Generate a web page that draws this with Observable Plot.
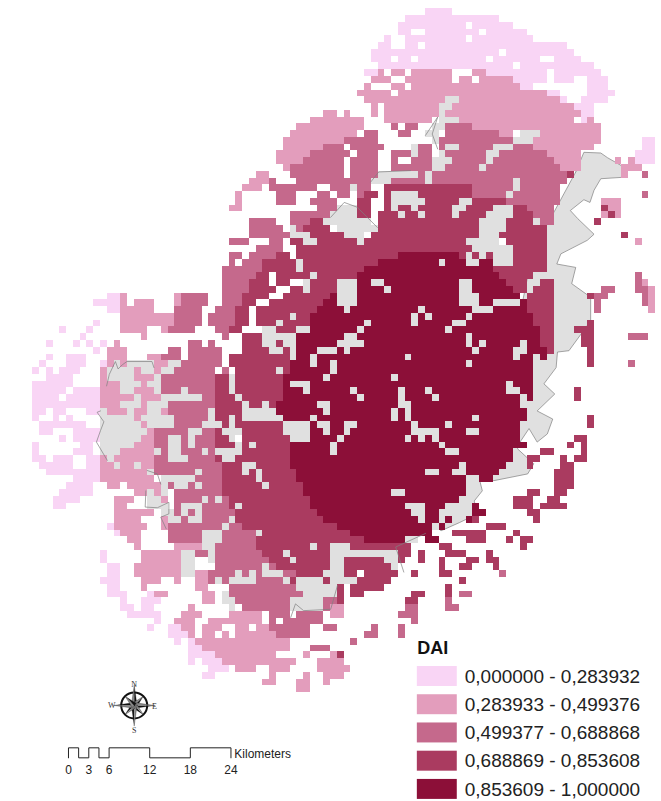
<!DOCTYPE html>
<html><head><meta charset="utf-8">
<script src="https://cdn.jsdelivr.net/npm/d3@7"></script>
<script src="https://cdn.jsdelivr.net/npm/@observablehq/plot@0.6"></script>
<style>html,body{margin:0;padding:0;background:#fff}svg{display:block}</style>
</head><body><div id="chart"></div>
<script>
// DAI classes
const classes = ["l","m","o","d","k","g"];
const colours = ["#f9d5f5","#e39dbc","#c5698c","#aa3b60","#8c0f38","#e0e0e0"];
const legendLabels = ["0,000000 - 0,283932","0,283933 - 0,499376","0,499377 - 0,688868","0,688869 - 0,853608","0,853609 - 1,000000"];
// Raster, one string per row (1 km cells); later runs override, w = no data
const rowsNorth = [
"l58-61","l55-68","l54-70 w64","l54-72 w56-57 w66","l52 l55-73 w64","l51-52 l55-78 w57","l50-79 w69","l50-80 w53 w56 w67 w75-76","l51-82 w71",
"l49-50 m51 m53-54 m56-61 m65-66 l67-83 w76","m50-52 m55-61 m63-64 m66-70 l71-75 l77-79 l82-84","m49 m53-54 m56-71 l72-73 l82-84",
"m48-75 w53 l76-77 l82-85","m49-60 g61-62 m63-77 l78 l81-84","m50 m52-59 g60-61 m62-79 l80-82","m43-44 m46 m50 m52-59 g60 m61-80 l81-82",
"m41-48 m52-58 g60-62 m63-79 l81 m82","m39-48 o53 o55-56 g59-60 o61-64 m65-83","m38-47 o49-50 o54-55 g58-59 o61-68 m69-70 g72-74 m75-83",
"m37-45 o46-50 g59 o60-70 g71-73 m74-83 l90-91","m37-42 o43-51 w46 g56 o57-58 o60 g61-62 o63-67 g68-70 o71-73 m74-82 l90-91",
"m36-40 o41-50 w47 o53-55 g56 o57-58 g60 o61-66 g67-68 o69-75 m76-80 l89-91","m36-39 o40-50 w46 o53 o56-58 g59-61 o62-66 g67 o68-76 m77-80 m86 m88 l89-91",
"m37 o38-50 w46 o53-54 o55-58 g59-60 o61-65 g66 o67-77 m78-80 m87-89","m33-34 o38-50 w46 g51-56 o57 g58 o59-78 d79 m87 o90",
"m32-34 o35 o39-49 g50-52 o53-57 g58 o59-70 g71 o72-78","m31-33 o35-37 o38-41 o44-46 g47 o48-49 d52-64 o65-70 g71 o72-77",
"m30 o36-38 o42-43 o45-46 o48 d49-50 d52 g53-56 d57-64 o65-69 g70 o71-77 o90","m30 o36-38 o41-44 d48-49 d52 g53-57 d58-62 g63-64 d65-69 o70-77 m84-86",
"m29-30 o42-44 g45-47 d48-49 d52 g53 d54-55 g56 d57-61 g62-63 d64-67 g68-70 d71-72 o73-76 d84 m85-86","o38-43 g44-47 d48-49 d51-53 g54 d55-56 g57 d58-61 g62 d63-66 g67-70 d71-73 o74-76 m84 d85 m86",
"o32-35 o38-40 d41-42 g43-49 d51-65 g66-69 d70-73 g74 o75-76 d83","o32-36 g38 o39 d40-43 g45-50 d51-65 g66-69 d70-75",
"o32-37 g38-40 d41-45 g46-48 d50-65 g66-68 d69-75 d87","o29-31 o35-36 d38-39 g40-41 d42-47 g48 d49-63 g64-68 d70-75 m89","o33-36 d39-64 g65-70 d71-75",
"o29-30 o32-35 d36-37 d39-53 k54-62 d63 g64 d65 g66 d67 g68-70 d71-75","o29 o31-33 d34-38 g39 d40-50 k51-59 g60 k61-63 g64-65 k66-67 g68-70 d71-75",
"o28-33 d34-38 g39 d40-48 k49-67 d68-75"];
const rowsMiddle = [
"o28-32 d33-34 d36-40 g41 d42-47 k48-68 d69-73 o89","o28-31 d32-34 d36-37 g40 d41-44 g45-47 k48-49 g50-51 k52-62 g63-64 k65-69 d70-72 d75-76 o89 m90",
"o28-31 d32-35 d38-39 g40 d41-44 g45-47 k48-51 g52 k53-62 g63-64 k65-70 d71-72 d74-76 o84-85 o89-90 m91",
"l11-12 m13 m21 o22-25 o28-30 d31-34 d37-43 k44 g45-47 k48-62 g63-65 k66-71 d73-76 d82 o83-84 o90 m91",
"l9-12 m13 m15-17 m21 o22-25 o28-30 d31-32 d35-42 k43-44 g45-47 k48-62 g63-65 k66-67 g68-71 k72 d73-76 o83 o90 m91",
"l11-12 m13-17 o21-24 o27-29 d30-31 d33-41 k42-45 g46 k47-56 g57 k58-64 g65-67 k68-72 d73-76 o83 m91",
"m13-20 o21-24 o26-29 d30-31 d33-37 g38 d39-40 k41-55 g56 k57 g58 k59-63 g64 k65-73 d74-76",
"l9 m13-20 o21-24 o26-29 d30-31 d33-35 g36 d37-40 k41-48 g49 k50-55 g56 k57-61 g62-63 k64-73 d74-76 d82",
"l4 l8 m13-16 m19 o20-23 o27-28 d29-30 g34-35 d36-38 g39-40 k41-47 g48 k49-60 g61 k62-74 d75-76 d80-82",
"l7 m16 o28 d31-33 g34-38 k39-45 g46-47 k48-63 g64 k65-74 d75-76 d81-82 o88-90",
"l2 l6 l8 l10 m12 o23-24 o26 d31-33 g34-35 d36 g37-38 k39-44 g45-48 k49-63 g64 k65 g66 k67-71 g72 k73-74 d75-76 d81-82",
"l9 m11-13 o20-21 o23-27 d31-34 g35-36 d37 g38 k39-41 g42-44 k45 g46 k47-64 g65 k66-70 g71-72 k73-75 d76 d82",
"l2 l5-7 m11-13 m17-18 o19-21 o23-27 d29-37 g38 k39-40 g41 k42-54 g55 k56-70 g71 k72-73 k75 d82",
"l1 l5-7 l10 m11 g12 m13 g14-17 m18-19 g20-21 o22-27 d29-37 k38-40 g41 k42-43 g44 k45-63 g64 k65-73 d82 o88",
"l0 l2 l4-6 m10 g11-14 m15 g16-17 m18 g19-20 o21-26 o28 d30-35 g36 d37 k38-43 g44 k45-73",
"l2-5 m10 g11-14 m15-17 g18 o19-26 d27-28 g29 d30-36 k37-42 g43 k44-52 g53 k54-73",
"l0-5 m10-12 g13-15 m16 g17-18 o19-26 d27-28 g29 d30-36 k37 g38-40 k41-69 g70 k71-73",
"l0-4 l6-9 m10-12 g13-14 m15-17 g18 o19-21 g22 o23-26 d27-28 g29 d30-36 k37-39 g40 k41-46 g47 k48-53 g54 k55-57 g58 k59-69 g70-71 k72-73 d80",
"l0-3 l5-9 m10-14 g15 m16-18 g19-24 o25-26 d27-29 g30 d31-36 k37-47 g48 k49-53 g54 k55-58 g59 k60-71 g72 k73 d80",
"l0-9 m10-12 g13-15 m16 g17-19 o20-26 d27-30 g31 d32-33 g34 d35 k36-41 g42-43 k44-53 g54-55 k56-71 g72",
"l0-1 l3-4 l8-9 g10 m11-13 g14 m15-16 g17-18 m19 o20-25 g26 d27-30 g31-35 k36-42 g43 k44-52 g53 k54 g55 k56-72",
"l0 l3 l5 g10-14 m15 g16-20 o21-25 g26 d27-28 g29 d30 g31-36 k37-40 g41 k42-52 g53 k54 g55 k56-64 g65 k66-72 d82",
"l1-7 g10-15 m16 g17-20 o21-24 g25-27 d28 g29 d30-36 g37-40 k41 g42-43 k44-45 g46-47 k48-55 g56 k57-60 g61 k62-71 d82",
"l1-2 l6-9 g10-16 m17 o18-22 g23-24 o25-26 d27 g28-30 d31-36 g37-40 k41-42 g43 k44-45 g46 k47-55 g56-59 k60-63 g64-65 k66-71"];
const rowsSouth = [
"l4 l6-9 g10-15 m16-17 o18-19 g20-21 o22 g23 o24-26 d27-28 g29 d31-37 g38-40 k41-44 g45 k46-54 g55 k56 g57 k58 g59 k60-71 d80-81",
"l0 l7-8 g10-14 m15-17 o18-19 g20-21 o22 g23 o24-26 d27-29 g30 d31 g32 d33-37 k38-43 g44 k45-59 g60 k61-72 d79 d81",
"l0 l6-8 g10-12 m13-17 g18 o19 g20-21 o22-24 g25 o26 g27-30 d31-37 k38-43 g44 k45-60 g61-62 k63-70 d75-76 d81",
"l0-1 l3-5 l8-9 m10 g11 m12-17 o18-19 g20-22 o23-26 d27 g28-29 d30-37 k38-70 d73-74 d78 d80-81",
"l1-5 l8-9 m10-11 g12 m13-14 g15 m16-17 o18-27 d28-30 g31-32 d33-37 k38-62 g63 k64-69 d73 d78-79",
"l2-9 m10-16 g17 o18-23 g24 o25-27 d28-30 g31 d32 g33 d34-38 k39-57 g58-59 k60-61 g62-63 k64-68 d77-79",
"l6-9 m10-17 g19-23 o24-27 d28-32 g33 d34-38 k39-63 g64-65 k66-67 d77-79",
"l5-8 m11-12 m14-18 g19 o20 g21-22 o23 g24 o25-27 d28-33 g34 d35-39 k40-63 d77-79",
"l4-8 m15-16 g17 m18 g19 o21-27 d28-39 k40-52 g53-54 k55-63 d73-74 d77-78",
"l3-6 m12-14 g17-18 m19 o21-24 g25 o26 g27 o28 d29-40 k41-62 d71-73 d76-77",
"l3-4 m12-13 g17-19 o21 g22-24 o25-28 d29 g30 d31-40 k41-54 g55-57 k58-60 k65 d71-73 d75-78",
"m12-17 g19-20 o21 g22 o23 g24 o25-29 d30-41 k42-55 g56-57 k58-59 k65-66 d73-74",
"m12-15 m19 g20-21 o22 g23-24 o25-28 g29 d30-42 k43-56 g57 k58-59 k61 k64 d65 d74",
"l11 m12-16 m19 o20-27 g28 o29-30 d31-44 k45-58 g59 k60 d67-69",
"l12 m13-15 o20-24 g25-27 o28-32 g33 d34-46 k47-58 d62-66 d71",
"m14-15 o20-24 g25-27 o28-32 d33-48 k49-54 g55-56 k58-59 d64-66 d70 d72-73",
"m15 m21-24 g25-26 o27-32 d33-40 g41 d42-43 g44-46 d47-55 d60-61 d72",
"l10 m16-21 g22-23 o24-25 g26 o27-33 d34-36 g37 d38-43 g44-53 d54-55 d57 d61-63 d67",
"l10 m16-21 g22-23 g26 o27-34 d35-37 g38 d39-43 g44-45 d46-51 g52-53 d54 d57 d60 d64-65 d67-68",
"l11-12 m15-21 g22-23 o27-33 g34 o35 d36-43 g44-45 d46-52 g53 d60 d63-64 d68",
"l11-12 m15-21 g22-23 m24-25 o26-29 g30 o31 g32 o33 g34-36 o37-38 d39-42 g43-45 d46-47 d49-53 d56 d60-61 o69",
"l10-12 m16-18 m21 m24-25 o26 g27 o28 g29-32 o33-36 g37 d38 g39-42 d43 g44-47 d48-52 d63",
"l11-12 m16 m24-25 o29-38 g39-44 d45 d47-51 d61",
"l11-13 l17 m18-19 m25-26 g28 o29-39 g40-44 d45 d47-48 d56-57 d61 o63-64",
"l13 l16-18 m25-26 g28-29 o30-37 g38-42 o43-44 d45 d55-56 o61",
"l13-14 l16-17 m23 g29 o31-37 g38-42 o43 m44-45 o55-56 o61-62",
"l14-18 m22-24 m29-33 o35-37 o39-42 m44-45 o54-56",
"l18 m21-23 m26-33 o35 o37-42 o56",
"l17 l20-21 m22-23 m25-27 m30-31 m33-34 o35-40 o43-44 o50 o54",
"l20-22 m23 m25-26 m28 m30-35 o36-40 o49-50 o54",
"l21 l23 m24-37 o47",
"l23-24 m25-37 o41-43",
"l23-26 m27-35 m40 m44 d45",
"l23 l25-27 m28-38 m42-45",
"l26-28 m30-32 m35-37 m42-46",
"l25-26 m35 m40 m43-45",
"m34-35 m39-40 m43",
"m39-40"];
// Built-up outline, in km from the grid origin
const builtEast = [[80.2,24.1],[81.4,21.2],[83.9,21.3],[84.9,22],[87,23.2],[87,24.9],[83.9,25.1],[82.9,26.8],[82.3,28.6],[81.4,28.2],[79.4,29.8],[80.5,31],[82.9,33.3],[81.9,34.2],[78,36.2],[77.4,37.7],[80.2,38.2],[79.6,40.6],[82.4,42.6],[82.4,46.1],[79.2,50.5],[77.5,50.7],[77.3,53],[75.5,55.4],[77.1,56.9],[74.5,59.4],[76.8,60.6],[76,62.8],[74.5,64],[73.3,62],[72.1,63.8],[71.6,65],[74,67.2],[73.1,68.7],[68.1,69.7],[65.9,69.2],[66.4,71.2],[65.2,72.7],[65.7,74.6],[63,75.9],[60.3,77.1],[58,75],[62,70],[70,60],[72,45],[74,35],[77,30],[80.2,24.1]];
const outlines = [
 [[10.9,55.7],[11.3,54],[12.2,52.1],[12.6,53.2],[13.2,52.6],[13.9,52.1],[17.6,52.1],[17.9,53]],
 [[10,59.4],[9.5,59.6],[10.5,61],[10,62.3],[9.4,64],[11,66.7]],
 [[16.7,71.2],[16.6,73.6],[18.4,73.7],[20.1,72.9],[20.1,74.6],[18.9,75.1],[19.7,76.8]],
 [[16.9,68.2],[18.4,68.7],[18.9,70.2]],
 [[58,18.7],[59.8,16],[59,18.5],[59.8,20.7]],
 [[49.9,25.6],[51.1,24.1],[55.8,23.9]],
 [[44,30.8],[46,28.6],[47.9,29.3],[50.9,32.3]],
 [[38.1,89.9],[38.8,87.9],[40,88.9],[44,88.7],[45,85.2]],
 [[54.8,83.2],[53.6,79.5],[58,77.5]]
];
// Scale bar, km
const barKm = [0,3,6,12,18,24];
const barStep = [[0,1],[0,0],[1.5,0],[1.5,1],[3,1],[3,0],[4.5,0],[4.5,1],[6,1],[6,0],[12,0],[12,1],[18,1],[18,0],[24,0],[24,1]];
const compassLetters = [["N",0,-3.1],["S",0,3.7],["W",-3.3,0],["E",3,0.1]];
const compassAngles = [0,45,90,135,180,225,270,315];

const rows = [...rowsNorth,...rowsMiddle,...rowsSouth];
const cells = [];
rows.forEach((s,r)=>{
  const m = new Map();
  s.split(" ").forEach(t=>{
    const [a,b] = t.slice(1).split("-").map(Number);
    for(let c=a;c<=(b===undefined?a:b);c++) m.set(c,t[0]);
  });
  m.forEach((v,c)=>{ if(v!=="w") cells.push({c,r,v}); });
});
const legend = legendLabels.map((label,i)=>({label,i,cls:classes[i]}));
const pts = a=>a.map(p=>({x:p[0],y:p[1]}));
const lines = outlines.flatMap((o,i)=>o.map(p=>({x:p[0],y:p[1],i})));
// compass
const cx=14.98, cy=102.9;
const spikes=[];
compassAngles.forEach((a,i)=>{
  const R = i%2?1.9:3.0, w=0.42, t=a*Math.PI/180;
  const tip=[cx+R*Math.sin(t),cy-R*Math.cos(t)];
  const s1=[cx+w*Math.cos(t),cy+w*Math.sin(t)], s2=[cx-w*Math.cos(t),cy-w*Math.sin(t)];
  [[tip,s1,[cx,cy]],[tip,s2,[cx,cy]]].forEach((tri,j)=>tri.forEach(p=>spikes.push({x:p[0],y:p[1],id:i+"-"+j,tone:j})));
});
const bx=5.27, by0=109.16, byH=1.48;

const plot = Plot.plot({
  width:661,height:801,margin:0,
  x:{domain:[-32.3/6.77,(661-32.3)/6.77],range:[0,661],axis:null},
  y:{domain:[-8.3/6.77,(801-8.3)/6.77],range:[0,801],axis:null},
  color:{domain:classes,range:colours},
  style:{background:"#fff",fontFamily:"'Liberation Sans',Arial,sans-serif"},
  marks:[
    Plot.line(pts(builtEast),{x:"x",y:"y",fill:"#e0e0e0",stroke:"#808080",strokeWidth:0.7,curve:"linear"}),
    Plot.rect(cells,{x1:"c",x2:d=>d.c+1,y1:"r",y2:d=>d.r+1,fill:"v",shapeRendering:"crispEdges"}),
    Plot.line(lines,{x:"x",y:"y",z:"i",stroke:"#808080",strokeWidth:0.7}),
    // legend
    Plot.text(["DAI"],{x:()=>56.8,y:()=>94.5,text:d=>d,textAnchor:"start",fontSize:18,fontWeight:"bold",fill:"#111"}),
    Plot.rect(legend,{x1:()=>56.8,x2:()=>62.7,y1:d=>97.15+d.i*4.17,y2:d=>100.1+d.i*4.17,fill:"cls"}),
    Plot.text(legend,{x:()=>63.8,y:d=>98.65+d.i*4.17,text:"label",textAnchor:"start",fontSize:19,fill:"#222"}),
    // scale bar
    Plot.line(barStep.map(p=>({x:bx+p[0],y:by0+p[1]*byH})),{x:"x",y:"y",stroke:"#222",strokeWidth:1}),
    Plot.text(barKm,{x:d=>bx+d,y:()=>112.4,text:d=>String(d),fontSize:12,fill:"#222"}),
    Plot.text(["Kilometers"],{x:()=>bx+24.5,y:()=>110.1,text:d=>d,textAnchor:"start",fontSize:12,fill:"#222"}),
    // north arrow
    Plot.dot([0],{x:()=>cx,y:()=>cy,r:13,stroke:"#111",strokeWidth:2,fill:"#fff"}),
    Plot.line(spikes,{x:"x",y:"y",z:"id",fill:d=>d.tone?"#888":"#111",stroke:"#111",strokeWidth:0.3}),
    Plot.text(compassLetters,{x:d=>cx+d[1],y:d=>cy+d[2],text:d=>d[0],fontSize:8,fontFamily:"'Liberation Serif',serif",fill:"#333"})
  ]
});
document.getElementById("chart").append(plot);
</script></body></html>
